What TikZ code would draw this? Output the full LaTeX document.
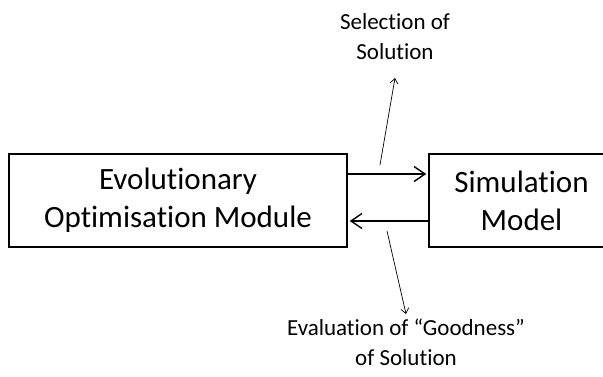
\documentclass[tikz,border=0pt]{standalone}
\usepackage{fontspec}
\setmainfont{Carlito}[Ligatures=NoCommon]
\usepackage{tikz}
\usetikzlibrary{arrows.meta}
\tikzset{
    module-box/.style = {draw=black, fill=white, line width=1.5pt, rectangle, align=center, font=\fontsize{31}{38}\selectfont},
    flow-arrow/.style = {line width=1.4pt, shorten >=2pt, -{Straight Barb[length=11pt,width=15pt,line width=1.4pt]}},
    note-text/.style = {align=center, font=\fontsize{23}{30}\selectfont},
    note-arrow/.style = {line width=0.7pt, -{Straight Barb[length=5pt,width=8pt]}},
}
\begin{document}
\begin{tikzpicture}
\useasboundingbox (0pt,0pt) rectangle (603pt,376pt);
\node [module-box, minimum width=338pt, minimum height=93pt] (optimiser) at (178pt,175.5pt) {Evolutionary\\Optimisation Module};
\node [module-box, minimum width=185pt, minimum height=93pt] (simulation) at (521.5pt,175.5pt) {Simulation\\Model};
\draw [flow-arrow] ([yshift=26.5pt]optimiser.east) -- ([yshift=26.5pt]optimiser.east -| simulation.west);
\draw [flow-arrow] ([yshift=-20.5pt]simulation.west) -- ([yshift=-20.5pt]simulation.west -| optimiser.east);
% labels
\node [note-text] (selection) at (395pt,339pt) {Selection of\\Solution};
\node [note-text] (evaluation) at (406pt,34pt) {Evaluation of ``Goodness''\\of Solution};
\coordinate (selection-start) at (380pt,211pt);
\coordinate (selection-end) at (395pt,298pt);
\coordinate (evaluation-start) at (387pt,145pt);
\coordinate (evaluation-end) at (406pt,62pt);
\draw [note-arrow] (selection-start) -- (selection-end);
\draw [note-arrow] (evaluation-start) -- (evaluation-end);
\end{tikzpicture}
\end{document}
